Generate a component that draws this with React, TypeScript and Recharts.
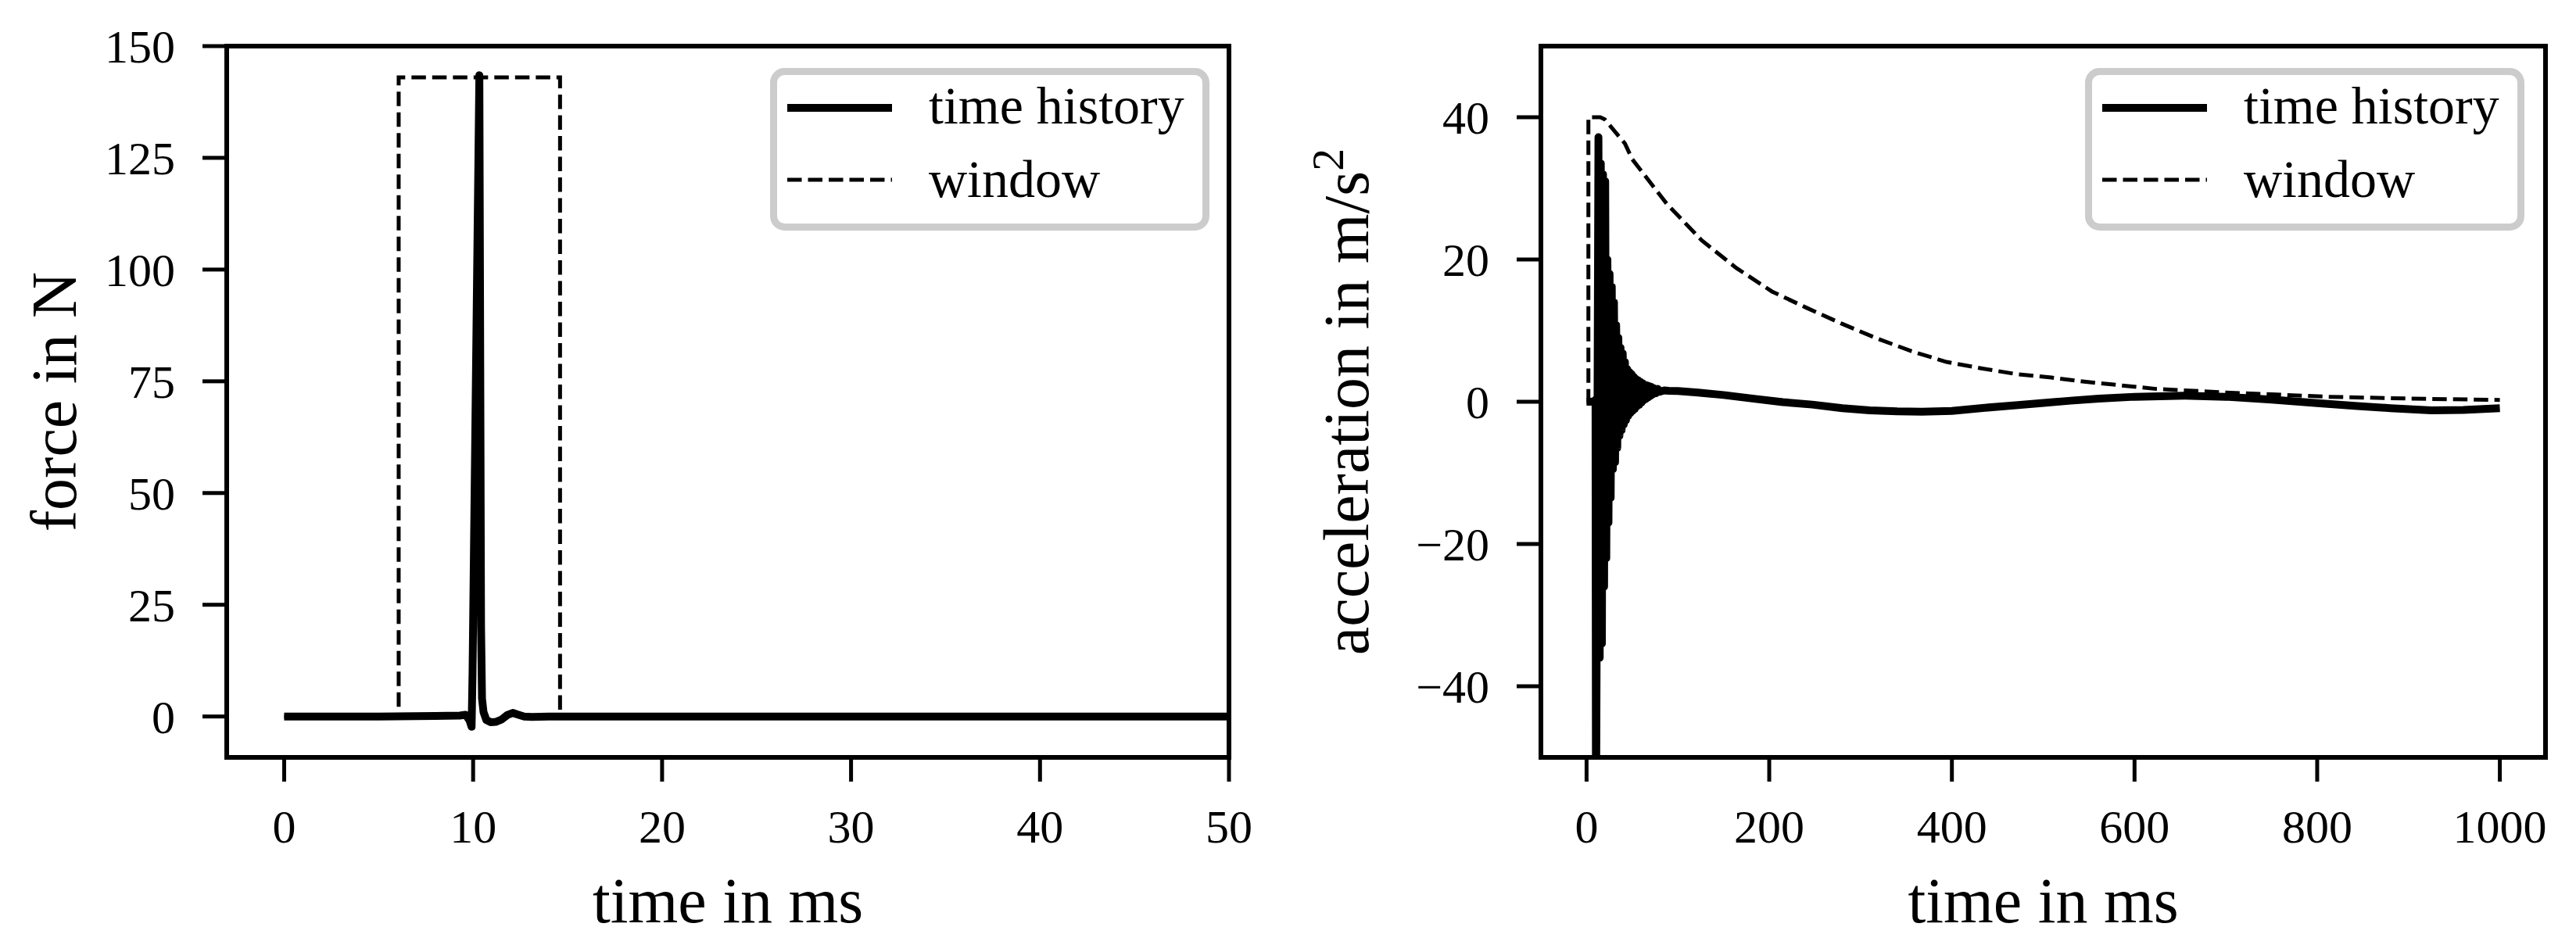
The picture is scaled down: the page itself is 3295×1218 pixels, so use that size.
import { Legend, Line, LineChart, ReferenceArea, XAxis, YAxis } from 'recharts';

const FONT = "'Liberation Serif', 'DejaVu Serif', serif";

// left panel: force time history and its rectangular window
const forceTime = [
  0, 5, 8, 9.3, 9.6, 9.8, 9.92, 9.97, 10.33, 10.42, 10.47, 10.55, 10.7, 10.95, 11.2, 11.5,
  11.8, 12.1, 12.4, 12.7, 13.1, 14, 20, 30, 40, 50,
];
const forceValues = [
  0, 0, 0.1, 0.2, 0.4, -0.8, -2.3, 10, 143.5, 20, 4, 1, -0.8, -1.3, -1.2, -0.7,
  0.3, 0.8, 0.4, 0, -0.1, 0, 0, 0, 0, 0,
];
const forceWindowTime = [0, 6.06, 6.06, 14.6, 14.6, 50];
const forceWindowValues = [0, 0, 143, 143, 0, 0];
const forceTicksX = [0, 10, 20, 30, 40, 50];
const forceTicksY = [0, 25, 50, 75, 100, 125, 150];

// right panel: acceleration time history and its exponential window
const accTime = [
  0, 5, 9, 9.8, 10.3, 13.0, 14.4, 15.6, 16.8, 18.0, 19.2, 20.4, 21.6, 22.8, 24.0, 25.2,
  26.4, 27.6, 28.8, 30.0, 31.2, 32.4, 33.6, 34.8, 36.0, 37.2, 38.4, 39.6, 40.8, 42.0,
  43.2, 44.4, 45.6, 46.8, 48.0, 49.2, 50.4, 51.6, 52.8, 54.0, 55.2, 56.4, 57.6, 58.8,
  60.0, 61.2, 62.4, 63.6, 64.8, 66.0, 67.2, 68.4, 69.6, 70.8, 72, 74, 76, 78, 80, 85,
  90, 100, 122, 150, 185, 215, 247, 280, 310, 340, 367, 400, 436, 470, 498, 530, 561,
  600, 655, 700, 750, 800, 844, 880, 925, 960, 1000,
];
const accValues = [
  0, 0, 0.1, 0.3, -62, 37.2, -36, 33.5, -34, 32, -26, 31, -22, 20, -17, 18,
  -13.5, 16.2, -9.5, 14, -8.5, 10.8, -6.5, 9, -4.8, 7.6, -4, 6.8, -3.2, 5.6,
  -2.6, 4.6, -2, 4.2, -1.6, 3.9, -1.3, 3.5, -1, 3.2, -0.6, 3.0, -0.4, 2.8,
  -0.1, 2.6, 0.2, 2.4, 0.4, 2.3, 0.6, 2.2, 0.8, 2.1, 1.0, 1.9, 1.2, 1.8, 1.4, 1.6,
  1.55, 1.5, 1.3, 0.95, 0.4, -0.05, -0.4, -0.9, -1.2, -1.35, -1.4, -1.3, -0.85, -0.5, -0.2, 0.15, 0.45,
  0.7, 0.85, 0.7, 0.3, -0.2, -0.6, -0.9, -1.2, -1.15, -0.9,
];
const accWindowTime = [
  0, 2, 2, 15, 20, 42, 50, 88, 126, 164, 203, 241, 279, 318, 356, 394, 432, 470, 509,
  547, 624, 700, 812, 900, 1000,
];
const accWindowValues = [
  0, 0, 40, 40, 39.7, 36.3, 34.1, 27.8, 22.7, 18.8, 15.5, 13.2, 11.0, 8.9, 7.1, 5.6, 4.7,
  3.9, 3.4, 2.8, 1.8, 1.3, 0.7, 0.45, 0.25,
];
const accTicksX = [0, 200, 400, 600, 800, 1000];
const accTicksY = [-40, -20, 0, 20, 40];

const zip = (t: number[], v: number[]) => t.map((x, i) => ({ t: x, v: v[i] }));
const fmt = (v: number) => (v < 0 ? `\u2212${-v}` : `${v}`);

function LegendBox() {
  return (
    <svg width={562} height={208} style={{ display: 'block' }}>
      <rect
        x={4.5}
        y={4.5}
        width={553}
        height={199}
        rx={14}
        fill="#fff"
        fillOpacity={0.8}
        stroke="#cccccc"
        strokeWidth={9}
      />
      <line x1={22} x2={156} y1={51} y2={51} stroke="#000" strokeWidth={10} />
      <line
        x1={22}
        x2={156}
        y1={143}
        y2={143}
        stroke="#000"
        strokeWidth={5}
        strokeDasharray="18.5 8"
      />
      <text x={203} y={71} fontFamily={FONT} fontSize={68} fill="#000">
        time history
      </text>
      <text x={203} y={165} fontFamily={FONT} fontSize={68} fill="#000">
        window
      </text>
    </svg>
  );
}

type PanelProps = {
  left: number;
  width: number;
  margin: { top: number; right: number; bottom: number; left: number };
  xDomain: [number, number];
  yDomain: [number, number];
  xTicks: number[];
  yTicks: number[];
  history: { t: number; v: number }[];
  windowData: { t: number; v: number }[];
  yTitle: React.ReactNode;
  yTitleGap: number;
  legendLeft: number;
};

function Panel(p: PanelProps) {
  const tick = { fill: '#000', fontSize: 60, fontFamily: FONT };
  const tickLine = { stroke: '#000', strokeWidth: 5 };
  return (
    <div style={{ position: 'absolute', left: p.left, top: 0 }}>
      <LineChart width={p.width} height={1218} margin={p.margin}>
        <XAxis
          dataKey="t"
          type="number"
          domain={p.xDomain}
          ticks={p.xTicks}
          interval={0}
          allowDataOverflow
          height={249}
          axisLine={false}
          tickLine={tickLine}
          tickSize={31}
          tickMargin={35}
          tick={tick}
          tickFormatter={fmt}
          label={({ viewBox }: any) => (
            <text
              x={viewBox.x + viewBox.width / 2}
              y={viewBox.y + 211}
              textAnchor="middle"
              fontFamily={FONT}
              fontSize={82}
              fill="#000"
            >
              time in ms
            </text>
          )}
        />
        <YAxis
          type="number"
          domain={p.yDomain}
          ticks={p.yTicks}
          interval={0}
          allowDataOverflow
          width={200}
          axisLine={false}
          tickLine={tickLine}
          tickSize={31}
          tickMargin={35}
          tick={tick}
          tickFormatter={fmt}
          label={({ viewBox }: any) => {
            const bx = viewBox.x + viewBox.width - p.yTitleGap;
            const cy = viewBox.y + viewBox.height / 2;
            return (
              <text
                x={bx}
                y={cy}
                transform={`rotate(-90 ${bx} ${cy})`}
                textAnchor="middle"
                fontFamily={FONT}
                fontSize={82}
                fill="#000"
              >
                {p.yTitle}
              </text>
            );
          }}
        />
        <Line
          data={p.history}
          dataKey="v"
          type="linear"
          dot={false}
          activeDot={false}
          stroke="#000"
          strokeWidth={10}
          strokeLinejoin="round"
          isAnimationActive={false}
        />
        <Line
          data={p.windowData}
          dataKey="v"
          type="linear"
          dot={false}
          activeDot={false}
          stroke="#000"
          strokeWidth={5}
          strokeDasharray="18.5 8"
          isAnimationActive={false}
        />
        <ReferenceArea
          x1={p.xDomain[0]}
          x2={p.xDomain[1]}
          y1={p.yDomain[0]}
          y2={p.yDomain[1]}
          fill="none"
          stroke="#000"
          strokeWidth={6}
        />
        <Legend
          layout="vertical"
          align="center"
          verticalAlign="middle"
          wrapperStyle={{ left: p.legendLeft, top: 87, width: 562, height: 208 }}
          content={() => <LegendBox />}
        />
      </LineChart>
    </div>
  );
}

export default function App() {
  return (
    <div
      style={{
        position: 'absolute',
        left: 0,
        top: 0,
        width: 3295,
        height: 1218,
        background: '#fff',
      }}
    >
      <Panel
        left={0}
        width={1650}
        margin={{ top: 59, right: 78, bottom: 0, left: 90 }}
        xDomain={[-3.04, 50]}
        yDomain={[-9.15, 150]}
        xTicks={forceTicksX}
        yTicks={forceTicksY}
        history={zip(forceTime, forceValues)}
        windowData={zip(forceWindowTime, forceWindowValues)}
        yTitle="force in N"
        yTitleGap={193}
        legendLeft={985}
      />
      <Panel
        left={1650}
        width={1645}
        margin={{ top: 59, right: 39, bottom: 0, left: 121 }}
        xDomain={[-50, 1050]}
        yDomain={[-50, 50]}
        xTicks={accTicksX}
        yTicks={accTicksY}
        history={zip(accTime, accValues)}
        windowData={zip(accWindowTime, accWindowValues)}
        yTitle={
          <>
            acceleration in m/s
            <tspan dy={-32} fontSize={58}>
              2
            </tspan>
          </>
        }
        yTitleGap={221}
        legendLeft={1017}
      />
    </div>
  );
}
